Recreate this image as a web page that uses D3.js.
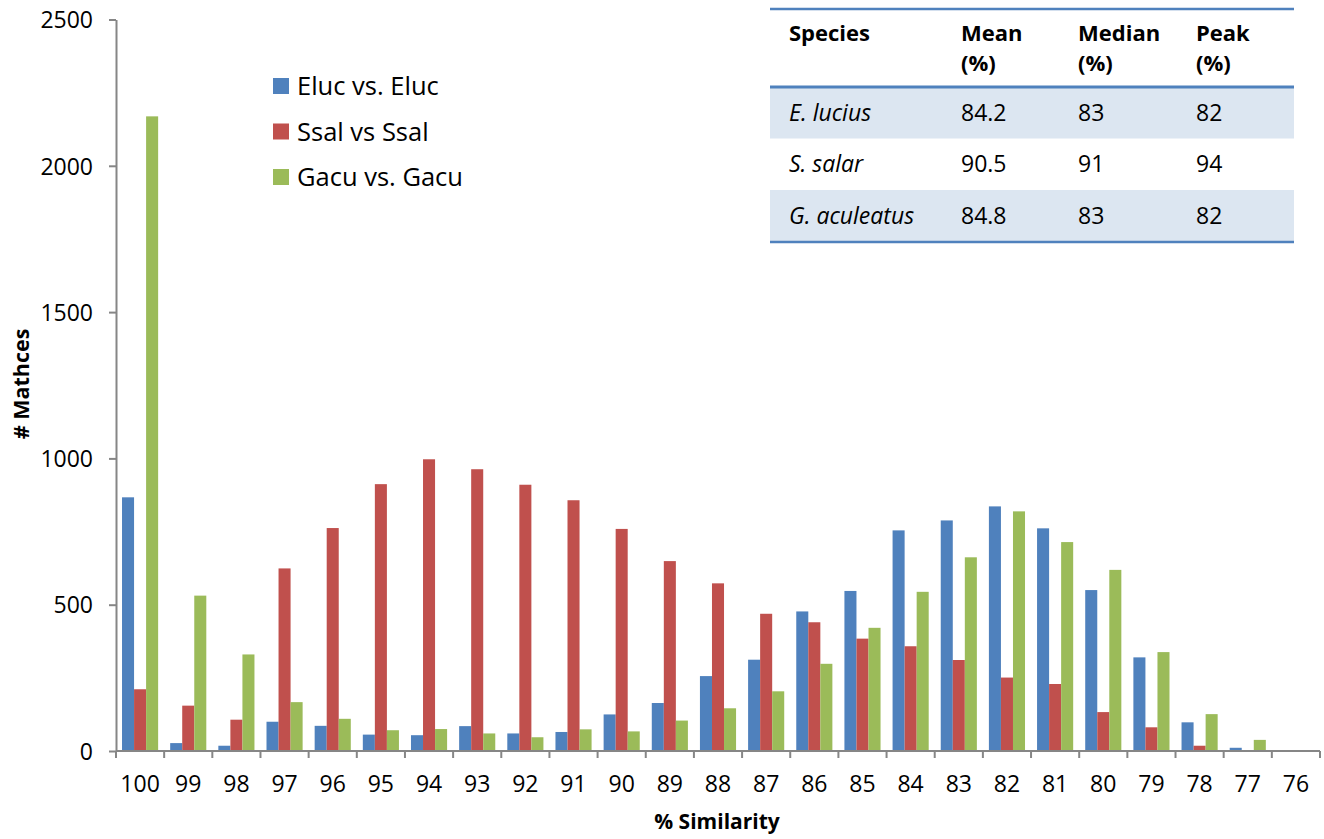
<!DOCTYPE html>
<html><head><meta charset="utf-8">
<script src="https://cdn.jsdelivr.net/npm/d3@7"></script>
<style>body{margin:0;background:#fff}svg{display:block}text{font-family:"Open Sans",sans-serif}</style>
</head><body>
<svg id="c" width="1324" height="839"></svg>
<script>
const categories = ["100","99","98","97","96","95","94","93","92","91","90","89","88","87","86","85","84","83","82","81","80","79","78","77","76"];
const seriesNames = ["Eluc vs. Eluc","Ssal vs Ssal","Gacu vs. Gacu"];
const eluc = [867,27,18,100,86,56,54,85,60,65,125,164,256,312,477,547,754,788,836,761,550,320,98,11,0];
const ssal = [211,155,107,624,762,912,997,963,910,857,759,649,573,469,440,384,358,311,251,229,133,81,18,0,0];
const gacu = [2169,531,330,167,110,71,75,60,47,74,67,104,146,204,298,421,544,662,819,714,619,338,126,38,0];
const colors = ["#4f81bd","#c0504d","#9bbb59"];
const yTicks = [0,500,1000,1500,2000,2500];
const tableHeader = [["Species"],["Mean","(%)"],["Median","(%)"],["Peak","(%)"]];
const tableRows = [["E. lucius","84.2","83","82"],["S. salar","90.5","91","94"],["G. aculeatus","84.8","83","82"]];

const svg = d3.select("#c");
const L=116, R=1320, T=19.5, B=751;
const series=[eluc,ssal,gacu];
const x0 = d3.scaleBand().domain(categories).range([L,R]).paddingInner(0.25).paddingOuter(0.125);
const x1 = d3.scaleBand().domain([0,1,2]).range([0,x0.bandwidth()]);
const y = d3.scaleLinear().domain([0,2500]).range([B,T]);
const axisColor="#868686";

// bars
categories.forEach((c,i)=>{
  series.forEach((s,k)=>{
    svg.append("rect").attr("x",x0(c)+x1(k)).attr("width",x1.bandwidth())
      .attr("y",y(s[i])).attr("height",B-y(s[i])).attr("fill",colors[k]);
  });
});

// y axis
const ya = svg.append("g").attr("transform",`translate(${L},0)`)
  .call(d3.axisLeft(y).tickValues(yTicks).tickFormat(d3.format("d")).tickSize(7).tickSizeOuter(0).tickPadding(16));
ya.selectAll("line,path").attr("stroke",axisColor).attr("stroke-width",2);
ya.selectAll("text").attr("font-size",23).attr("fill","#000").attr("font-family","Open Sans").attr("dy","0.36em");

// x axis
const step = x0.step();
svg.append("line").attr("x1",L).attr("x2",R).attr("y1",B).attr("y2",B).attr("stroke",axisColor).attr("stroke-width",2);
d3.range(categories.length+1).forEach(i=>{
  const xx=L+i*step;
  svg.append("line").attr("x1",xx).attr("x2",xx).attr("y1",B).attr("y2",B+7).attr("stroke",axisColor).attr("stroke-width",2);
});
categories.forEach(c=>{
  svg.append("text").attr("x",x0(c)+x0.bandwidth()/2).attr("y",792).attr("text-anchor","middle")
    .attr("font-size",23).text(c);
});
svg.append("text").attr("x",717).attr("y",829).attr("text-anchor","middle").attr("font-size",21).attr("font-weight","bold").text("% Similarity");
svg.append("text").attr("transform","translate(29,384) rotate(-90)").attr("text-anchor","middle").attr("font-size",21.5).attr("font-weight","bold").text("# Mathces");

// legend
seriesNames.forEach((n,k)=>{
  const cy=86+k*45.5;
  svg.append("rect").attr("x",273).attr("y",cy-8).attr("width",16).attr("height",16).attr("fill",colors[k]);
  svg.append("text").attr("x",297).attr("y",cy+9).attr("font-size",25.5).text(n);
});

// table
const tx0=770, tx1=1294;
const colX=[789,961,1078,1196];
const rowTop=[87,138.5,190], rowH=[51.5,51.5,52];
tableRows.forEach((r,i)=>{
  if(i!==1) svg.append("rect").attr("x",tx0).attr("y",rowTop[i]).attr("width",tx1-tx0).attr("height",rowH[i]).attr("fill","#dce6f1");
  r.forEach((v,j)=>{
    svg.append("text").attr("x",colX[j]).attr("y",rowTop[i]+rowH[i]/2+8).attr("font-size",23)
      .attr("font-style",j===0?"italic":"normal").text(v);
  });
});
tableHeader.forEach((h,j)=>{
  h.forEach((v,l)=>{
    svg.append("text").attr("x",colX[j]).attr("y",41+l*30).attr("font-size",22).attr("font-weight","bold").text(v);
  });
});
[9,87,242].forEach(yy=>{
  svg.append("line").attr("x1",tx0).attr("x2",tx1).attr("y1",yy).attr("y2",yy).attr("stroke","#4f81bd").attr("stroke-width",yy===87?3:2.5);
});
</script>
</body></html>
